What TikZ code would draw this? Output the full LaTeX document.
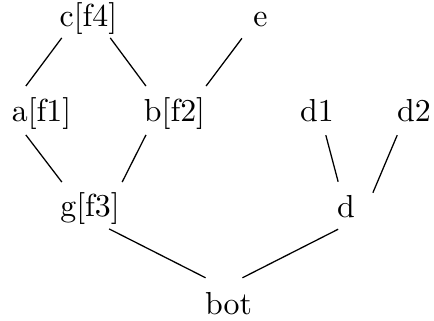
\documentclass[tikz,border=0pt]{standalone}
\usepackage{tikz}

\begin{document}
\begin{tikzpicture}[
  x=0.314pt, y=-0.314pt,
  elem/.style={inner sep=0pt, outer sep=0pt},
  edge/.style={line width=0.4pt}
]
\useasboundingbox (0,0) rectangle (434,320);
% elements of the order, top row to bottom
\node[elem] (c)   at (88.5,19)   {c[f4]};
\node[elem] (e)   at (260.5,20)  {e};
\node[elem] (a)   at (41.5,113.5) {a[f1]};
\node[elem] (b)   at (174.5,113.5) {b[f2]};
\node[elem] (d1)  at (317,111)   {d1};
\node[elem] (d2)  at (414,111)   {d2};
\node[elem] (g)   at (90,209)    {g[f3]};
\node[elem] (d)   at (346,207)   {d};
\node[elem] (bot) at (228.5,303.5) {bot};
% covering relations
\draw[edge] ([shift={(2,3)}]c.south west)    -- ([shift={(14,-11.5)}]a.north west);
\draw[edge] ([shift={(-7,3)}]c.south east)   -- ([shift={(2,-11.5)}]b.north west);
\draw[edge] ([shift={(-11.5,11)}]e.south west) -- ([shift={(1,-11.5)}]b.north east);
\draw[edge] ([shift={(14,5.5)}]a.south west) -- ([shift={(1.5,-11)}]g.north west);
\draw[edge] ([shift={(2,5.5)}]b.south west)  -- ([shift={(2.5,-11)}]g.north east);
\draw[edge] ([shift={(-8,13)}]d1.south east) -- ([shift={(1,-14)}]d.north west);
\draw[edge] ([shift={(0,13)}]d2.south west)  -- ([shift={(18,-3)}]d.north east);
\draw[edge] ([shift={(-10.5,4)}]g.south east) -- ([shift={(0.5,-14.5)}]bot.north west);
\draw[edge] ([shift={(1,11)}]d.south west)   -- ([shift={(-9.5,-14.5)}]bot.north east);
\end{tikzpicture}
\end{document}
